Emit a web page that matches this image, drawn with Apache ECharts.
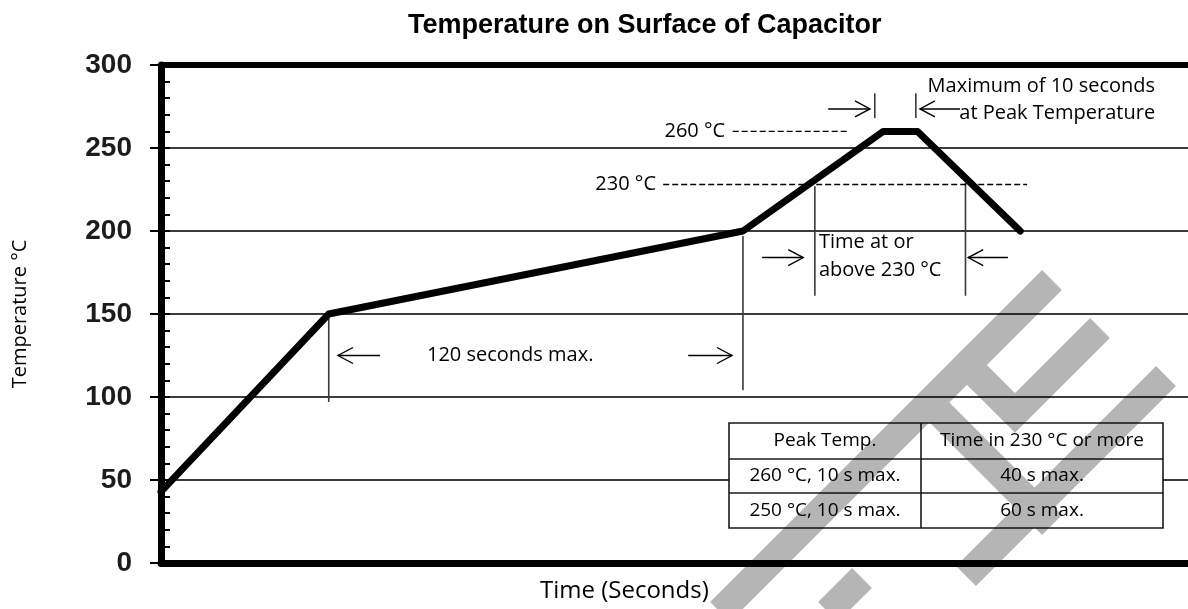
<!DOCTYPE html>
<html><head><meta charset="utf-8">
<script src="https://cdn.jsdelivr.net/npm/echarts@6/dist/echarts.min.js"></script>
<style>html,body{margin:0;padding:0;background:#fff}#c{width:1188px;height:609px}</style>
</head><body><div id="c"></div>
<script>
const titleText = 'Temperature on Surface of Capacitor';
const xTitle = 'Time (Seconds)';
const yTitle = 'Temperature °C';
// reflow profile: time (s) and temperature (°C)
const profileTime = [0, 49, 170, 211, 221, 251];
const profileTemp = [43, 150, 200, 260, 260, 200];
// vertical guide lines: [time, fromTemp, toTemp]
const guideLines = [[49,150,97],[170,197,104],[191,227,161],[235,229,161],[208.5,283,268],[220.5,283,268]];
// arrows: [tailTime, headTime, temp]
const arrows = [[64,51.7,125],[154,166.8,125],[175.6,187.6,184],[247.4,235.8,184],[194.9,207.1,273.5],[233.4,221.7,273.5]];
// dashed reference lines: [fromTime, toTime, temp]
const dashLines = [[167,200.4,260],[146.7,253,228]];
// notes: [time, temp, text, align]
const notes = [
  [164.8,260,'260 °C','right'],
  [144.6,228,'230 °C','right'],
  [102,125,'120 seconds max.','center'],
  [192.2,193.2,'Time at or','left'],
  [192.2,176.4,'above 230 °C','left'],
  [290.4,287.4,'Maximum of 10 seconds','right'],
  [290.4,271.2,'at Peak Temperature','right']
];
const tableHeader = ['Peak Temp.','Time in 230 °C or more'];
const tableRows = [['260 °C, 10 s max.','40 s max.'],['250 °C, 10 s max.','60 s max.']];

const FONT = '"Open Sans", "Noto Sans", sans-serif';
const chart = echarts.init(document.getElementById('c'), null, {renderer:'canvas'});

function renderGuide(params, api){
  const g = guideLines[params.dataIndex];
  const p1 = api.coord([g[0], g[1]]), p2 = api.coord([g[0], g[2]]);
  return {type:'line', shape:{x1:p1[0],y1:p1[1],x2:p2[0],y2:p2[1]}, style:{stroke:'#3a3a3a', lineWidth:1.6}};
}
function renderArrow(params, api){
  const a = arrows[params.dataIndex];
  const p1 = api.coord([a[0], a[2]]), p2 = api.coord([a[1], a[2]]);
  const dir = p2[0] > p1[0] ? 1 : -1;
  const hl = 15, hw = 8;
  return {type:'group', children:[
    {type:'line', shape:{x1:p1[0],y1:p1[1],x2:p2[0],y2:p2[1]}, style:{stroke:'#000', lineWidth:1.4}},
    {type:'polyline', shape:{points:[[p2[0]-dir*hl, p2[1]-hw],[p2[0],p2[1]],[p2[0]-dir*hl,p2[1]+hw]]}, style:{stroke:'#000', lineWidth:1.4, fill:null}}
  ]};
}
function renderDash(params, api){
  const d = dashLines[params.dataIndex];
  const p1 = api.coord([d[0], d[2]]), p2 = api.coord([d[1], d[2]]);
  return {type:'line', shape:{x1:p1[0],y1:p1[1],x2:p2[0],y2:p2[1]}, style:{stroke:'#000', lineWidth:1.3, lineDash:[6,3]}};
}
function renderNote(params, api){
  const n = notes[params.dataIndex];
  const p = api.coord([n[0], n[1]]);
  return {type:'text', x:p[0], y:p[1], style:{text:n[2], fill:'#000', font:'20px ' + FONT, align:n[3], verticalAlign:'middle'}};
}
// grey watermark strokes (decoration over the page)
const watermarkPath = 'M1052,280 L720,612 M929,402 L1052,525 M1166,376 L966,576 M957,355 L1015,413 L1100,328 M862,578 L828,612';
function renderWatermark(){
  return {type:'path', shape:{pathData:watermarkPath},
    style:{stroke:'rgba(0,0,0,0.29)', fill:null, lineWidth:28, lineCap:'butt', lineJoin:'miter'}};
}

// table (inset)
const tL = 729, tR = 1163, tT = 423, tS = 921, rowH = [36, 34, 35];
const tableEls = [];
let yy = tT;
const rowYs = [tT];
rowH.forEach(h => { yy += h; rowYs.push(yy); });
tableEls.push({type:'rect', shape:{x:tL, y:tT, width:tR-tL, height:yy-tT}, style:{fill:'#fff', stroke:'#1a1a1a', lineWidth:1.6}, z:5});
tableEls.push({type:'line', shape:{x1:tS, y1:tT, x2:tS, y2:yy}, style:{stroke:'#1a1a1a', lineWidth:1.6}, z:6});
for (let i = 1; i < rowYs.length - 1; i++) {
  tableEls.push({type:'line', shape:{x1:tL, y1:rowYs[i], x2:tR, y2:rowYs[i]}, style:{stroke:'#1a1a1a', lineWidth:1.6}, z:6});
}
[tableHeader].concat(tableRows).forEach((row, r) => {
  const cy = (rowYs[r] + rowYs[r+1]) / 2;
  row.forEach((txt, c) => {
    const cx = c === 0 ? (tL + tS) / 2 : (tS + tR) / 2;
    tableEls.push({type:'text', x:cx, y:cy, style:{text:txt, fill:'#000', font:'19px ' + FONT, align:'center', verticalAlign:'middle'}, z:7});
  });
});

chart.setOption({
  animation:false,
  backgroundColor:'#fff',
  title:[
    {text:titleText, left:403, top:7, textStyle:{fontFamily:'"Liberation Sans", Arial, sans-serif', fontWeight:'bold', fontSize:27, color:'#000'}},
    {text:xTitle, left:535, top:574, textStyle:{fontFamily:FONT, fontWeight:'normal', fontSize:24, color:'#000'}}
  ],
  grid:{left:161, right:0, top:65, bottom:46, containLabel:false},
  xAxis:[
    {type:'value', min:0, max:300, position:'bottom',
     axisLine:{show:true, lineStyle:{color:'#000', width:7}},
     axisTick:{show:false}, axisLabel:{show:false}, splitLine:{show:false}},
    {type:'value', min:0, max:300, position:'top',
     axisLine:{show:true, onZero:false, lineStyle:{color:'#000', width:6}},
     axisTick:{show:false}, axisLabel:{show:false}, splitLine:{show:false}}
  ],
  yAxis:[
    {type:'value', min:0, max:300, interval:50, position:'left',
     name:yTitle, nameLocation:'middle', nameGap:131, nameRotate:90,
     nameTextStyle:{fontFamily:FONT, fontSize:20, color:'#000'},
     axisLine:{show:true, lineStyle:{color:'#000', width:7}},
     axisTick:{show:true, inside:false, length:11, lineStyle:{color:'#000', width:2}},
     axisLabel:{show:true, margin:29, fontFamily:'"Liberation Sans", Arial, sans-serif', fontWeight:'bold', fontSize:28, color:'#1c1c1c'},
     splitLine:{show:true, lineStyle:{color:'#3c3c3c', width:2}}},
    {type:'value', min:0, max:300, interval:10, position:'left', offset:0,
     axisLine:{show:false},
     axisTick:{show:true, inside:true, length:9, lineStyle:{color:'#000', width:2}},
     axisLabel:{show:false}, splitLine:{show:false}}
  ],
  graphic:{elements: tableEls},
  series:[
    {type:'line', xAxisIndex:0, yAxisIndex:0, data:profileTime.map((t,i)=>[t, profileTemp[i]]),
     showSymbol:false, symbol:'none', silent:true, z:10,
     lineStyle:{color:'#000', width:7, cap:'round', join:'round'}},
    {type:'custom', renderItem:renderGuide, data:guideLines.map(g=>[g[0], g[1]]), silent:true, z:8},
    {type:'custom', renderItem:renderArrow, data:arrows.map(a=>[a[0], a[2]]), silent:true, z:8},
    {type:'custom', renderItem:renderDash, data:dashLines.map(d=>[d[0], d[2]]), silent:true, z:8},
    {type:'custom', renderItem:renderNote, data:notes.map(n=>[n[0], n[1]]), silent:true, z:9},
    {type:'custom', renderItem:renderWatermark, data:[[0,0]], silent:true, z:100, zlevel:0}
  ]
});
</script></body></html>
